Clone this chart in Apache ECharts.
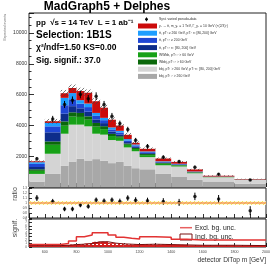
<!DOCTYPE html>
<html><head><meta charset="utf-8">
<script src="https://cdn.jsdelivr.net/npm/echarts@6/dist/echarts.min.js"></script>
<style>html,body{margin:0;padding:0;background:#fff}#c{width:274px;height:267px}</style>
</head><body><div id="c"></div>
<script>
// ---- data ----
const binEdges = [500,600,700,750,800,850,900,950,1000,1050,1100,1150,1200,1300,1400,1500,1600,1800,2000];
const bkgDarkGray   = [350,850,1370,1650,1830,1720,1810,1700,1550,1650,1370,1220,1150,850,680,460,350,200];
const bkgLightGray  = [500,1310,2090,2400,2220,2220,1650,1700,1500,1350,1200,1100,790,560,650,430,280,260];
const wbbGreen      = [200,580,520,520,500,430,460,360,260,200,170,150,130,100,70,50,20,10];
const wbbjDarkGreen = [100,220,280,280,260,220,240,190,140,100,80,70,70,50,30,20,10,5];
const ttNavy        = [150,590,500,400,300,300,230,200,150,120,100,80,60,40,30,20,10,5];
const ttBlue        = [200,390,550,450,300,300,230,190,140,120,100,80,60,40,30,20,10,5];
const ttLightBlue   = [110,220,480,400,230,230,190,150,130,110,90,60,50,30,20,10,5,5];
const signal        = [60,110,300,330,590,700,760,660,500,340,280,110,170,180,120,130,50,30];
const systUnc       = [0.035,0.035,0.035,0.035,0.035,0.035,0.035,0.035,0.035,0.035,0.035,0.035,0.035,0.035,0.035,0.035,0.035,0.035];
const pseudoData    = [1830,4420,5360,5640,6010,5730,5900,5360,4600,4120,3730,3030,2640,1940,1650,1290,830,460];
const pseudoErr     = [120,200,230,240,250,240,250,230,210,190,180,160,150,120,110,100,80,60];
const ratioVals     = [1.10,1.032,0.88,0.88,0.96,0.932,1.06,1.04,1.06,1.032,1.10,1.055,1.046,1.032,1.012,1.132,1.08,0.846];
const ratioErr      = [0.06,0.05,0.045,0.045,0.045,0.045,0.05,0.05,0.05,0.055,0.055,0.06,0.06,0.065,0.07,0.075,0.08,0.09];
const signifExcl    = [0.7,0.7,1.0,1.7,2.9,3.4,4.1,4.1,3.4,2.8,2.5,2.3,2.9,2.8,2.2,2.0,2.0,2.0];
const signifIncl    = [0.4,0.4,0.5,0.7,0.8,1.0,1.5,1.5,1.1,0.9,0.8,0.7,0.8,0.7,0.6,0.5,0.5,0.4];
const xTickLabels   = [600,800,1000,1200,1400,1600,1800,2000];
const legendLabels  = [
  'y₁ → t̄t, m_y₁ = 1 TeV, Γ_y₁ = 10 GeV (×(2/3)²)',
  't̄t, pT¹ ≥ 260 GeV, pT² ∈ [80,200] GeV',
  't̄t, pT¹˒² ≥ 200 GeV',
  't̄t, pT¹˒² ∈ [80, 200] GeV',
  'WWbb, pT¹˒² > 60 GeV',
  'Wbbj, pT¹˒² > 60 GeV',
  'bbj, pT¹ > 260 GeV, pT² ∈ [80, 200] GeV',
  'bbj, pT¹˒² > 260 GeV'
];

// ---- helpers ----
function hatch(color, bg, w) {
  const c = document.createElement('canvas'); c.width = 4; c.height = 4;
  const g = c.getContext('2d');
  if (bg) { g.fillStyle = bg; g.fillRect(0,0,4,4); }
  g.strokeStyle = color; g.lineWidth = w || 0.7;
  g.beginPath(); g.moveTo(0,4); g.lineTo(4,0); g.moveTo(-1,1); g.lineTo(1,-1); g.moveTo(3,5); g.lineTo(5,3); g.stroke();
  return c;
}
function dashPat() {
  const c = document.createElement('canvas'); c.width = 4; c.height = 3;
  const g = c.getContext('2d');
  g.fillStyle = '#d42020'; g.fillRect(0,0,4,3);
  g.fillStyle = '#ffffff'; g.fillRect(0,1,2,1);
  return c;
}
const hatchBlack = hatch('#444', null, 0.7);
const hatchYellow = hatch('#e8d800', '#fffbd0', 0.8);
const incPat = dashPat();

function rectRender(fill, stroke) {
  return function(params, api) {
    const p0 = api.coord([api.value(0), api.value(3)]);
    const p1 = api.coord([api.value(1), api.value(2)]);
    return { type:'rect', shape:{ x:p0[0], y:p0[1], width:p1[0]-p0[0], height:p1[1]-p0[1] },
      style: { fill: fill || api.visual('color'), stroke: stroke || null, lineWidth: stroke ? 0.5 : 0 } };
  };
}
function errRender(params, api) {
  const a = api.coord([api.value(0), api.value(1)]);
  const b = api.coord([api.value(0), api.value(2)]);
  return { type:'line', shape:{ x1:a[0], y1:a[1], x2:b[0], y2:b[1] }, style:{ stroke:'#000', lineWidth:1 } };
}
const n = binEdges.length - 1;
const centers = binEdges.slice(0,-1).map((e,i) => (e + binEdges[i+1]) / 2);
function stepData(vals) {
  const d = [];
  vals.forEach((v,i) => { d.push([binEdges[i], v]); d.push([binEdges[i+1], v]); });
  return d;
}

const comps = [
  { vals: bkgDarkGray,   color:'#a8a8a8' },
  { vals: bkgLightGray,  color:'#d4d4d4' },
  { vals: wbbGreen,      color:'#17a117' },
  { vals: wbbjDarkGreen, color:'#0b680b' },
  { vals: ttNavy,        color:'#0d2c8a' },
  { vals: ttBlue,        color:'#1f46d4' },
  { vals: ttLightBlue,   color:'#1e9dff' },
  { vals: signal,        color:'#cc0b0b' }
];
const legendColors = ['#cc0b0b','#1e9dff','#1f46d4','#0d2c8a','#17a117','#0b680b','#d4d4d4','#a8a8a8'];

const series = [];
const base = new Array(n).fill(0);
comps.forEach(c => {
  const d = c.vals.map((v,i) => [binEdges[i], binEdges[i+1], base[i], base[i] + v]);
  c.vals.forEach((v,i) => base[i] += v);
  series.push({ type:'custom', xAxisIndex:0, yAxisIndex:0, renderItem: rectRender(), data: d,
    encode:{ x:[0,1], y:[2,3] }, itemStyle:{ color:c.color }, silent:true });
});
// syst band
series.push({ type:'custom', xAxisIndex:0, yAxisIndex:0,
  renderItem: rectRender({ image: hatchBlack, repeat:'repeat' }),
  data: base.map((t,i) => [binEdges[i], binEdges[i+1], t*(1-systUnc[i]), t*(1+systUnc[i])]),
  encode:{ x:[0,1], y:[2,3] }, silent:true });
// pseudo data
series.push({ type:'custom', xAxisIndex:0, yAxisIndex:0, renderItem: errRender,
  data: pseudoData.map((v,i) => [centers[i], v - pseudoErr[i], v + pseudoErr[i]]), encode:{ x:0, y:[1,2] }, silent:true });
series.push({ type:'scatter', xAxisIndex:0, yAxisIndex:0, symbol:'circle', symbolSize:3.5,
  itemStyle:{ color:'#000' }, data: pseudoData.map((v,i) => [centers[i], v]), silent:true });

// ratio panel
series.push({ type:'custom', xAxisIndex:1, yAxisIndex:1,
  renderItem: rectRender({ image: hatchYellow, repeat:'repeat' }),
  data: [[binEdges[0], binEdges[n], 0.965, 1.035]], encode:{ x:[0,1], y:[2,3] }, silent:true });
series.push({ type:'line', xAxisIndex:1, yAxisIndex:1, data:[[binEdges[0],1],[binEdges[n],1]],
  symbol:'none', lineStyle:{ color:'#f59a5a', width:1.5 }, silent:true });
series.push({ type:'custom', xAxisIndex:1, yAxisIndex:1, renderItem: errRender,
  data: ratioVals.map((v,i) => [centers[i], v - ratioErr[i], v + ratioErr[i]]), encode:{ x:0, y:[1,2] }, silent:true });
series.push({ type:'scatter', xAxisIndex:1, yAxisIndex:1, symbol:'circle', symbolSize:3.5,
  itemStyle:{ color:'#000' }, data: ratioVals.map((v,i) => [centers[i], v]), silent:true });

// signif panel
series.push({ type:'custom', xAxisIndex:2, yAxisIndex:2,
  renderItem: rectRender({ image: incPat, repeat:'repeat' }),
  data: signifIncl.map((v,i) => [binEdges[i], binEdges[i+1], 0, v]), encode:{ x:[0,1], y:[2,3] }, silent:true });
series.push({ type:'line', xAxisIndex:2, yAxisIndex:2, data: stepData(signifIncl), symbol:'none',
  lineStyle:{ color:'#7a0c0c', width:1 }, silent:true });
series.push({ type:'line', xAxisIndex:2, yAxisIndex:2, data: stepData(signifExcl), symbol:'none',
  lineStyle:{ color:'#e23333', width:1.5 }, silent:true });

const L = 29, W = 237;
const xAx = (idx, labels) => ({
  type:'value', gridIndex: idx, min: binEdges[0], max: binEdges[n], interval: 100,
  axisLine:{ show:false },
  axisTick:{ show:true, inside:true, length:4, lineStyle:{ color:'#000', width:0.8 } },
  minorTick:{ show:true, splitNumber:2, length:2, lineStyle:{ color:'#000', width:0.8 } },
  splitLine:{ show:false },
  axisLabel:{ show: labels, fontSize:3.6, color:'#444', margin:3, fontFamily:'Liberation Sans',
    formatter: v => xTickLabels.indexOf(v) >= 0 ? String(v) : '' }
});

const option = {
  animation:false,
  grid:[
    { left:L, top:13, width:W, height:174, show:true, borderColor:'#222', borderWidth:1, backgroundColor:'transparent', outerBoundsMode:'none' },
    { left:L, top:188, width:W, height:30, show:true, borderColor:'#222', borderWidth:1, backgroundColor:'transparent', outerBoundsMode:'none' },
    { left:L, top:219, width:W, height:28, show:true, borderColor:'#222', borderWidth:1, backgroundColor:'transparent', outerBoundsMode:'none' }
  ],
  xAxis:[ xAx(0,false), xAx(1,false), xAx(2,true) ],
  yAxis:[
    { type:'value', gridIndex:0, min:0, max:11300, interval:2000,
      axisLine:{ show:false }, splitLine:{ show:false },
      axisTick:{ show:true, inside:true, length:5, lineStyle:{ color:'#000', width:0.8 } },
      minorTick:{ show:true, splitNumber:4, length:2.5, lineStyle:{ color:'#000', width:0.8 } },
      axisLabel:{ fontSize:5, color:'#333', margin:2, fontFamily:'Liberation Sans', showMaxLabel:false, showMinLabel:false,
        formatter: v => (v === 0 || v > 10000) ? '' : String(v) } },
    { type:'value', gridIndex:1, min:0.7, max:1.3, interval:0.1,
      axisLine:{ show:false }, splitLine:{ show:false },
      axisTick:{ show:true, inside:true, length:3, lineStyle:{ color:'#000', width:0.8 } },
      axisLabel:{ fontSize:3, color:'#444', margin:2, fontFamily:'Liberation Sans', formatter: v => (Math.round(v*10)/10).toString() } },
    { type:'value', gridIndex:2, min:0, max:8, interval:1,
      axisLine:{ show:false }, splitLine:{ show:false },
      axisTick:{ show:true, inside:true, length:3, lineStyle:{ color:'#000', width:0.8 } },
      axisLabel:{ fontSize:3, color:'#444', margin:2, fontFamily:'Liberation Sans' } }
  ],
  series: series,
  graphic: []
};

const G = option.graphic;
const F = 'Liberation Sans';
G.push({ type:'text', x:107, y:7, style:{ text:'MadGraph5 + Delphes', font:'bold 12px '+F, fill:'#000', align:'center', verticalAlign:'middle' } });
G.push({ type:'text', x:36, y:23, style:{ text:'pp  √s = 14 TeV  L = 1 ab⁻¹', font:'bold 8px '+F, fill:'#000', verticalAlign:'middle' } });
G.push({ type:'text', x:36, y:35.5, style:{ text:'Selection: 1B1S', font:'bold 10px '+F, fill:'#000', verticalAlign:'middle' } });
G.push({ type:'text', x:36, y:48, style:{ text:'χ²/ndf=1.50 KS=0.00', font:'bold 8.5px '+F, fill:'#000', verticalAlign:'middle' } });
G.push({ type:'text', x:36, y:60.5, style:{ text:'Sig. signif.: 37.0', font:'bold 8.5px '+F, fill:'#000', verticalAlign:'middle' } });
// y title
G.push({ type:'text', x:5, y:14, rotation:Math.PI/2, style:{ text:'Expected events', font:'3.6px '+F, fill:'#666', align:'right', verticalAlign:'middle' } });
// legend main
G.push({ type:'line', shape:{ x1:146.5, y1:17.3, x2:146.5, y2:21.3 }, style:{ stroke:'#000', lineWidth:0.8 } });
G.push({ type:'circle', shape:{ cx:146.5, cy:19.3, r:1.4 }, style:{ fill:'#000' } });
G.push({ type:'text', x:159, y:19.3, style:{ text:'Syst. varied pseudo-data', font:'3.4px '+F, fill:'#333', verticalAlign:'middle' } });
const legY = [26, 33.2, 40.4, 47.6, 54.8, 62, 69.2, 76.4];
legendLabels.forEach((t,i) => {
  G.push({ type:'rect', shape:{ x:138, y:legY[i]-2.5, width:19, height:5 }, style:{ fill:legendColors[i] } });
  G.push({ type:'text', x:159, y:legY[i], style:{ text:t, font:'3.4px '+F, fill:'#333', verticalAlign:'middle' } });
});
// panel titles
G.push({ type:'text', x:15, y:194, rotation:Math.PI/2, style:{ text:'ratio', font:'7px '+F, fill:'#444', align:'center', verticalAlign:'middle' } });
G.push({ type:'text', x:15, y:228, rotation:Math.PI/2, style:{ text:'signif.', font:'7px '+F, fill:'#444', align:'center', verticalAlign:'middle' } });
G.push({ type:'text', x:266, y:260.5, style:{ text:'detector DiTop m [GeV]', font:'6.6px '+F, fill:'#333', align:'right', verticalAlign:'middle' } });
// signif legend
G.push({ type:'line', shape:{ x1:180, y1:227.7, x2:192, y2:227.7 }, style:{ stroke:'#e86060', lineWidth:1.5 } });
G.push({ type:'text', x:195, y:227.7, style:{ text:'Excl. bg. unc.', font:'6.8px '+F, fill:'#222', verticalAlign:'middle' } });
G.push({ type:'rect', shape:{ x:180, y:234, width:12, height:6 }, style:{ fill:'#fff', stroke:'#7a1010', lineWidth:1 } });
G.push({ type:'text', x:195, y:237, style:{ text:'Incl. bg. unc.', font:'6.8px '+F, fill:'#222', verticalAlign:'middle' } });

const chart = echarts.init(document.getElementById('c'), null, { renderer:'canvas', width:274, height:267 });
chart.setOption(option);
</script>
</body></html>
